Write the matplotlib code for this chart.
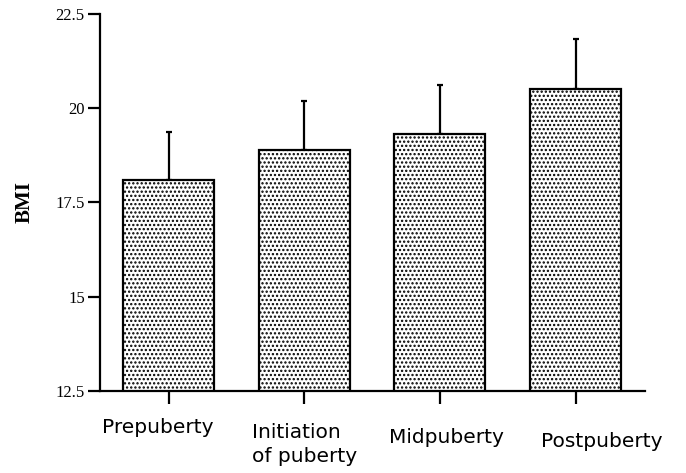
import numpy as np
import matplotlib
matplotlib.use('Agg')
import matplotlib.pyplot as plt

# values
stages = ['Prepuberty', 'Initiation\nof puberty', 'Midpuberty', 'Postpuberty']
bmi_mean = [18.1, 18.88, 19.33, 20.52]
bmi_sd = [1.28, 1.30, 1.29, 1.31]
yticks = [12.5, 15, 17.5, 20, 22.5]
ytick_labels = ['12.5', '15', '17.5', '20', '22.5']

plt.rcParams['hatch.linewidth'] = 1.1
plt.rcParams['hatch.color'] = 'black'

fig = plt.figure(figsize=(6.86, 4.73), dpi=100)
ax = fig.add_axes([0.1458, 0.1734, 0.7942, 0.797])

x = np.arange(len(stages))
ax.bar(x, bmi_mean, width=0.67, bottom=0, color='white', edgecolor='black',
       linewidth=1.6, hatch='....', zorder=2)
ax.errorbar(x, bmi_mean, yerr=[np.zeros(len(bmi_sd)), bmi_sd], fmt='none',
            ecolor='black', elinewidth=1.6, capsize=2, capthick=1.6, zorder=1)

ax.set_xlim(-0.505, 3.51)
ax.set_ylim(12.5, 22.5)
ax.set_yticks(yticks)
ax.set_yticklabels(ytick_labels, fontfamily='Liberation Serif', fontsize=12)
ax.set_xticks(x)
ax.set_xticklabels([])
ax.tick_params(axis='both', direction='out', length=9, width=1.6, pad=2)

for s in ['top', 'right']:
    ax.spines[s].set_visible(False)
for s in ['left', 'bottom']:
    ax.spines[s].set_linewidth(1.6)

ax.set_ylabel('BMI', fontfamily='Liberation Serif', fontweight='bold', fontsize=15)
ax.yaxis.set_label_coords(-0.12, 0.5)

# category labels, staggered as in the original
label_dx = [-0.08, 0.0, 0.05, 0.19]
label_dy = [-27, -32, -37, -41]
for i, name in enumerate(stages):
    ax.annotate(name, xy=(x[i] + label_dx[i], 0), xycoords=('data', 'axes fraction'),
                xytext=(0, label_dy[i] * 0.72), textcoords='offset points',
                ha='center', va='top', multialignment='left',
                fontfamily='DejaVu Sans', fontsize=14.5, linespacing=1.35)

fig.savefig('out.png', dpi=100)
